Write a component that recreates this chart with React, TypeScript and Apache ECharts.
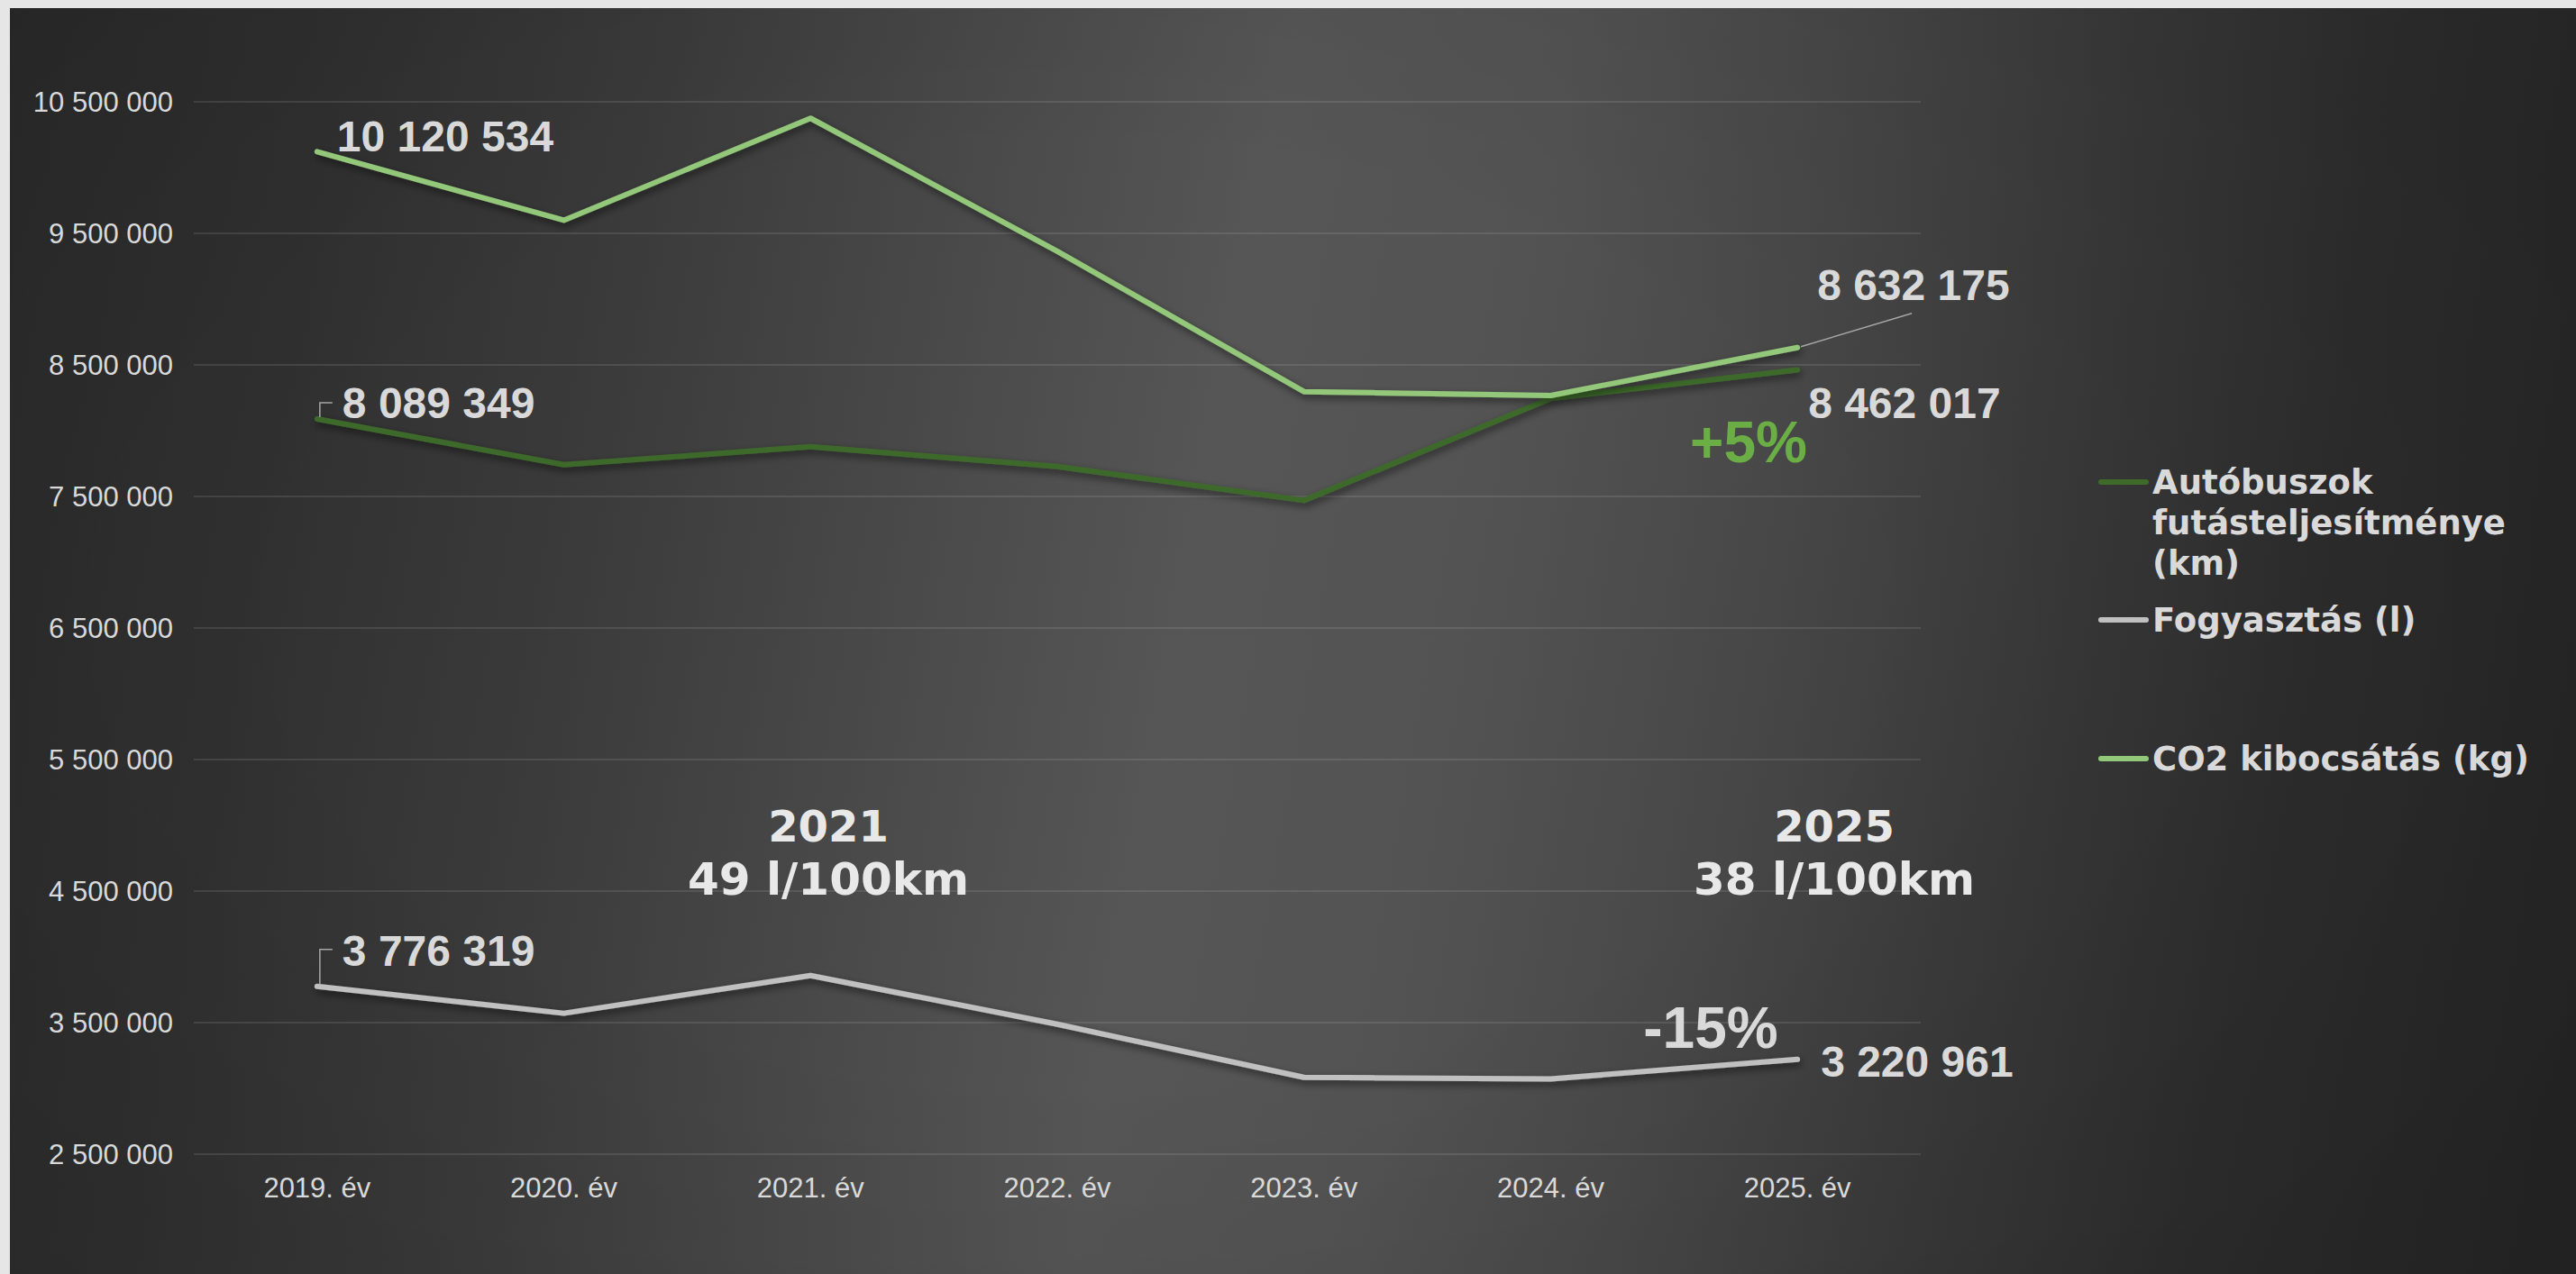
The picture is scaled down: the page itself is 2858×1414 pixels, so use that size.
import React, { useEffect, useRef } from 'react';
import * as echarts from 'echarts';

// ---------- data ----------
const categories = ['2019. év', '2020. év', '2021. év', '2022. év', '2023. év', '2024. év', '2025. év'];
const kmValues = [8089349, 7741000, 7878000, 7728000, 7470000, 8245000, 8462017];
const fuelValues = [3776319, 3571000, 3858000, 3488000, 3084000, 3072000, 3220961];
const co2Values = [10120534, 9600000, 10375000, 9364000, 8297000, 8267000, 8632175];
const seriesNames = ['Autóbuszok futásteljesítménye (km)', 'Fogyasztás (l)', 'CO2 kibocsátás (kg)'];
const legendTexts = ['Autóbuszok\nfutásteljesítménye\n(km)', 'Fogyasztás (l)', 'CO2 kibocsátás (kg)'];
const yMin = 2500000;
const yMax = 10500000;
const yInterval = 1000000;
const note2021 = ['2021', '49 l/100km'];
const note2025 = ['2025', '38 l/100km'];
const kmChange = '+5%';
const fuelChange = '-15%';

// ---------- styles ----------
const W = 2847;
const H = 1405;
const colors = ['#3e6b2a', '#c0c0c0', '#93c87a'];
const textColor = '#d9d9d9';
const labelFont = 'Liberation Sans';
const legendFont = 'DejaVu Sans';
// label offsets [first point, last point] per series, relative to the point
const labelOffsets: number[][][] = [
  [[27, -17], [11, 37]],
  [[27, -39], [25, 3]],
  [[21, -17], [21, -69]],
];

const fmt = (v: number) => Math.round(v).toString().replace(/\B(?=(\d{3})+(?!\d))/g, ' ');

function buildData(values: number[], sIdx: number) {
  return values.map((v, i) => {
    const isFirst = i === 0;
    const isLast = i === values.length - 1;
    if (!isFirst && !isLast) return v;
    const off = labelOffsets[sIdx][isFirst ? 0 : 1];
    return {
      value: v,
      label: {
        show: true,
        position: 'right',
        distance: 0,
        offset: off,
        align: 'left',
        verticalAlign: 'middle',
        formatter: (p: any) => fmt(p.value),
        color: textColor,
        fontFamily: labelFont,
        fontWeight: 'bold',
        fontSize: 48,
      },
    };
  });
}

function centeredText(text: string, x: number, y: number, font: string, fill: string) {
  return {
    type: 'text',
    x,
    y,
    style: {
      text,
      fill,
      font,
      textAlign: 'center',
      textVerticalAlign: 'middle',
      align: 'center',
      verticalAlign: 'middle',
    },
    z: 10,
  };
}

export default function App() {
  const ref = useRef<HTMLDivElement>(null);

  useEffect(() => {
    if (!ref.current) return;
    const chart = echarts.init(ref.current, undefined, { renderer: 'svg' });
    const allValues = [kmValues, fuelValues, co2Values];

    const lineStyleFor = (c: string) => ({
      color: c,
      width: 6,
      cap: 'round',
      join: 'round',
      shadowColor: 'rgba(0,0,0,0.55)',
      shadowBlur: 8,
      shadowOffsetX: 2,
      shadowOffsetY: 4,
    });

    chart.setOption({
      animation: false,
      backgroundColor: 'transparent',
      grid: { left: 204, right: 727, top: 104, bottom: 133, containLabel: false },
      xAxis: {
        type: 'category',
        data: categories,
        boundaryGap: true,
        axisLine: { show: false },
        axisTick: { show: false },
        axisLabel: { color: textColor, fontFamily: labelFont, fontSize: 31, margin: 22 },
        splitLine: { show: false },
      },
      yAxis: {
        type: 'value',
        min: yMin,
        max: yMax,
        interval: yInterval,
        axisLine: { show: false },
        axisTick: { show: false },
        axisLabel: {
          color: textColor,
          fontFamily: labelFont,
          fontSize: 31,
          margin: 23,
          formatter: (v: number) => fmt(v),
        },
        splitLine: { lineStyle: { color: 'rgba(255,255,255,0.1)', width: 2 } },
      },
      series: allValues.map((vals, i) => ({
        name: seriesNames[i],
        type: 'line',
        data: buildData(vals, i),
        symbol: 'circle',
        symbolSize: 2,
        showSymbol: true,
        itemStyle: { color: colors[i] },
        lineStyle: lineStyleFor(colors[i]),
        silent: true,
        z: 2 + i,
        emphasis: { disabled: true },
      })),
    });

    const px = (s: number, i: number) =>
      chart.convertToPixel({ seriesIndex: s }, [i, allValues[s][i]]) as number[];
    const last = categories.length - 1;
    const pKm0 = px(0, 0);
    const pFuel0 = px(1, 0);
    const pCo2L = px(2, last);

    const leader = { stroke: '#a6a6a6', lineWidth: 1.5, fill: null };
    const noteFill = '#e8e8e8';
    const graphics: any[] = [
      {
        type: 'polyline',
        shape: { points: [[pKm0[0] + 3, pKm0[1] - 2], [pKm0[0] + 3, pKm0[1] - 18], [pKm0[0] + 17, pKm0[1] - 18]] },
        style: leader,
        z: 10,
      },
      {
        type: 'polyline',
        shape: { points: [[pFuel0[0] + 3, pFuel0[1] - 2], [pFuel0[0] + 3, pFuel0[1] - 41], [pFuel0[0] + 17, pFuel0[1] - 41]] },
        style: leader,
        z: 10,
      },
      {
        type: 'line',
        shape: { x1: pCo2L[0] + 4, y1: pCo2L[1] - 1, x2: pCo2L[0] + 127, y2: pCo2L[1] - 38 },
        style: leader,
        z: 10,
      },
      centeredText(note2021[0], 908, 908, `bold 48px "${legendFont}"`, noteFill),
      centeredText(note2021[1], 908, 967, `bold 50px "${legendFont}"`, noteFill),
      centeredText(note2025[0], 2024, 908, `bold 48px "${legendFont}"`, noteFill),
      centeredText(note2025[1], 2024, 967, `bold 50px "${legendFont}"`, noteFill),
      centeredText(kmChange, 1929, 482, `bold 64px "${labelFont}"`, '#6aae45'),
      centeredText(fuelChange, 1887, 1132, `bold 64px "${labelFont}"`, textColor),
    ];

    // legend
    const legendY = [526, 679, 833];
    legendTexts.forEach((t, i) => {
      graphics.push({
        type: 'line',
        shape: { x1: 2320, y1: legendY[i], x2: 2370, y2: legendY[i] },
        style: { stroke: colors[i], lineWidth: 6, lineCap: 'round' },
        z: 10,
      });
      graphics.push({
        type: 'text',
        x: 2377,
        y: legendY[i] - 22.5,
        style: {
          text: t,
          fill: textColor,
          font: `bold 37px "${legendFont}"`,
          textAlign: 'left',
          textVerticalAlign: 'top',
          align: 'left',
          verticalAlign: 'top',
          lineHeight: 45,
        },
        z: 10,
      });
    });

    chart.setOption({ graphic: graphics });

    return () => chart.dispose();
  }, []);

  const bg =
    'radial-gradient(ellipse 65% 80% at 42% 48%, rgba(0,0,0,0) 45%, rgba(0,0,0,0.12) 100%), ' +
    'linear-gradient(100deg, #2a2a2a 0%, #303030 12%, #3b3b3b 24%, #4a4a4a 36%, #565656 46%, #535353 56%, #484848 66%, #3a3a3a 76%, #2e2e2e 86%, #262626 100%)';

  return (
    <div style={{ position: 'fixed', left: 0, top: 0, width: 2858, height: 1414, background: '#e6e6e6', overflow: 'hidden' }}>
      <div
        ref={ref}
        style={{ position: 'absolute', left: 11, top: 9, width: W, height: H, background: bg }}
      />
    </div>
  );
}
